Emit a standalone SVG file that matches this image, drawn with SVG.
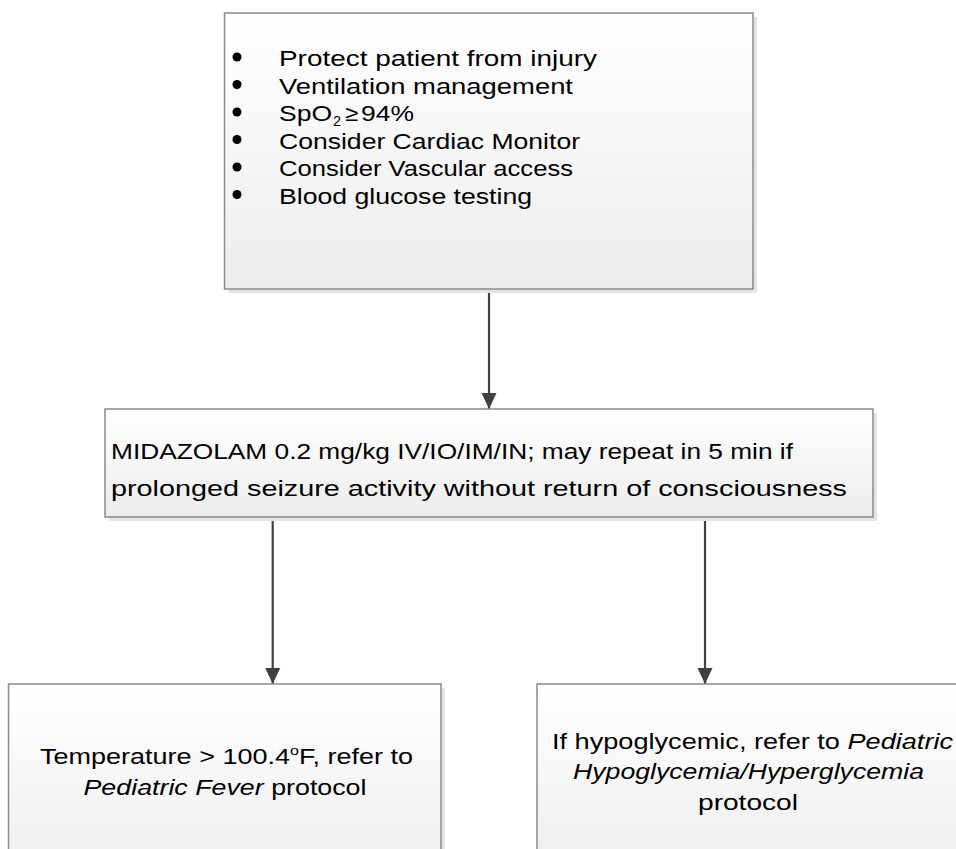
<svg xmlns="http://www.w3.org/2000/svg" width="956" height="849" viewBox="0 0 956 849">
<style>
.box{stroke:#8a8a8a;stroke-width:1.5;fill:url(#g)}
.sh{fill:#e3e3e3}
.t{font-family:"Liberation Sans",Arial,sans-serif;font-size:22px;fill:#000}
.i{font-style:italic}
.con{stroke:#404040;stroke-width:2.2;fill:none;marker-end:url(#ah)}
</style>
<defs>
<linearGradient id="g" x1="0" y1="0" x2="0" y2="1">
<stop offset="0" stop-color="#ffffff"/>
<stop offset="1" stop-color="#ececec"/>
</linearGradient>
<marker id="ah" markerUnits="userSpaceOnUse" markerWidth="16" markerHeight="16" viewBox="0 0 16 16" refX="16" refY="8" orient="auto">
<path d="M0,0.5 L16,8 L0,15.5 Z" fill="#404040"/>
</marker>
</defs>
<g id="connectors">
<path class="con" d="M489,289 L489,409"/>
<path class="con" d="M272.7,517 L272.7,684"/>
<path class="con" d="M705,517 L705,684"/>
</g>
<g id="node-assess">
<rect class="sh" x="228.5" y="17" width="528.5" height="276"/>
<rect class="box" x="224.5" y="13" width="528.5" height="276"/>
<circle cx="237" cy="57" r="4.5"/>
<circle cx="237" cy="84.5" r="4.5"/>
<circle cx="237" cy="112" r="4.5"/>
<circle cx="237" cy="139.5" r="4.5"/>
<circle cx="237" cy="167" r="4.5"/>
<circle cx="237" cy="194.5" r="4.5"/>
<text class="t" x="279" y="66" textLength="318" lengthAdjust="spacingAndGlyphs">Protect patient from injury</text>
<text class="t" x="279" y="93.5" textLength="294" lengthAdjust="spacingAndGlyphs">Ventilation management</text>
<text class="t" x="279" y="121" textLength="53" lengthAdjust="spacingAndGlyphs">SpO</text>
<text class="t" x="333" y="126" style="font-size:14px" textLength="8" lengthAdjust="spacingAndGlyphs">2</text>
<text class="t" x="345" y="121" textLength="13" lengthAdjust="spacingAndGlyphs">≥</text>
<text class="t" x="361" y="121" textLength="53" lengthAdjust="spacingAndGlyphs">94%</text>
<text class="t" x="279" y="148.5" textLength="301" lengthAdjust="spacingAndGlyphs">Consider Cardiac Monitor</text>
<text class="t" x="279" y="176" textLength="294" lengthAdjust="spacingAndGlyphs">Consider Vascular access</text>
<text class="t" x="279" y="203.5" textLength="253" lengthAdjust="spacingAndGlyphs">Blood glucose testing</text>
</g>
<g id="node-midazolam">
<rect class="sh" x="109" y="413" width="768" height="108"/>
<rect class="box" x="105" y="409" width="768" height="108"/>
<text class="t" x="111" y="459" textLength="682" lengthAdjust="spacingAndGlyphs">MIDAZOLAM 0.2 mg/kg IV/IO/IM/IN; may repeat in 5 min if</text>
<text class="t" x="111" y="496" textLength="736" lengthAdjust="spacingAndGlyphs">prolonged seizure activity without return of consciousness</text>
</g>
<g id="node-fever">
<rect class="sh" x="12.5" y="688" width="432.5" height="200"/>
<rect class="box" x="8.5" y="684" width="432.5" height="200"/>
<text class="t" x="40" y="764" textLength="373" lengthAdjust="spacingAndGlyphs">Temperature &gt; 100.4<tspan dy="-9" style="font-size:13px">o</tspan><tspan dy="9">F, refer to</tspan></text>
<text class="t" x="83.5" y="795" textLength="283" lengthAdjust="spacingAndGlyphs"><tspan class="i">Pediatric Fever</tspan> protocol</text>
</g>
<g id="node-glucose">
<rect class="sh" x="541" y="688" width="430" height="200"/>
<rect class="box" x="537" y="684" width="430" height="200"/>
<text class="t" x="552" y="749" textLength="401" lengthAdjust="spacingAndGlyphs">If hypoglycemic, refer to <tspan class="i">Pediatric</tspan></text>
<text class="t i" x="573" y="779" textLength="351" lengthAdjust="spacingAndGlyphs">Hypoglycemia/Hyperglycemia</text>
<text class="t" x="698" y="810" textLength="100" lengthAdjust="spacingAndGlyphs">protocol</text>
</g>
</svg>
